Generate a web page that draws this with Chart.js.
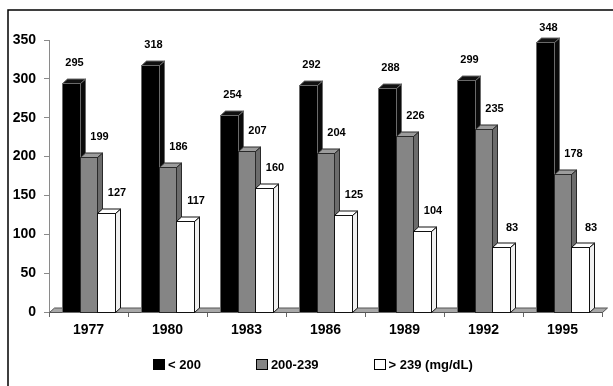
<!DOCTYPE html>
<html>
<head>
<meta charset="utf-8">
<script src="https://cdn.jsdelivr.net/npm/chart.js@4.4.0/dist/chart.umd.min.js"></script>
<style>
  html, body { margin: 0; padding: 0; background: #ffffff; }
  #wrap { width: 613px; height: 386px; position: relative; }
</style>
</head>
<body>
<div id="wrap"><canvas id="c" width="613" height="386"></canvas></div>
<script>
// Cholesterol groups by survey year
const years = ['1977', '1980', '1983', '1986', '1989', '1992', '1995'];
const seriesNames = ['< 200', '200-239', '> 239 (mg/dL)'];
const below200 = [295, 318, 254, 292, 288, 299, 348];
const from200to239 = [199, 186, 207, 204, 226, 235, 178];
const above239 = [127, 117, 160, 125, 104, 83, 83];
const yTicks = [0, 50, 100, 150, 200, 250, 300, 350];

const FONT = '"Liberation Sans", Arial, sans-serif';
const DX = 5, DY = 4.5;          // depth of the extruded boxes
const faces = [
  { front: '#000000', top: '#111111', side: '#0a0a0a', edge: '#6a6a6a' },
  { front: '#858585', top: '#9c9c9c', side: '#6c6c6c', edge: '#2a2a2a' },
  { front: '#ffffff', top: '#ffffff', side: '#f0f0f0', edge: '#111111' }
];
const labelShift = [3.5, 11, 11];

function px(v) { return Math.round(v) + 0.5; }

function drawBox(ctx, left, right, top, base, f) {
  ctx.save();
  ctx.lineWidth = 1;
  ctx.strokeStyle = f.edge;
  ctx.lineJoin = 'miter';
  // right side face
  ctx.beginPath();
  ctx.moveTo(right, top);
  ctx.lineTo(right + DX, top - DY);
  ctx.lineTo(right + DX, base - DY);
  ctx.lineTo(right, base);
  ctx.closePath();
  ctx.fillStyle = f.side; ctx.fill(); ctx.stroke();
  // top face
  ctx.beginPath();
  ctx.moveTo(left, top);
  ctx.lineTo(left + DX, top - DY);
  ctx.lineTo(right + DX, top - DY);
  ctx.lineTo(right, top);
  ctx.closePath();
  ctx.fillStyle = f.top; ctx.fill(); ctx.stroke();
  // front face
  ctx.fillStyle = f.front;
  ctx.fillRect(left, top, right - left, base - top);
  ctx.strokeRect(left, top, right - left, base - top);
  ctx.restore();
}

const boxes3d = {
  id: 'boxes3d',
  beforeDraw(chart) {
    const ctx = chart.ctx;
    ctx.save();
    ctx.fillStyle = '#ffffff';
    ctx.fillRect(0, 0, chart.width, chart.height);
    // frame
    ctx.strokeStyle = '#000000';
    ctx.lineWidth = 1.5;
    ctx.beginPath();
    ctx.moveTo(8, chart.height);
    ctx.lineTo(8, 10);
    ctx.lineTo(chart.width, 10);
    ctx.stroke();
    ctx.restore();
  },
  beforeDatasetDraw() {
    return false;   // flat bars are replaced by the boxes below
  },
  afterDatasetsDraw(chart) {
    const ctx = chart.ctx;
    const area = chart.chartArea;
    const yb = px(area.bottom - 0.5);
    // floor
    ctx.save();
    ctx.beginPath();
    ctx.moveTo(px(area.left), yb);
    ctx.lineTo(px(area.left) + DX, yb - DY);
    ctx.lineTo(px(area.right) + DX, yb - DY);
    ctx.lineTo(px(area.right), yb);
    ctx.closePath();
    ctx.fillStyle = '#a8a8a8';
    ctx.fill();
    ctx.strokeStyle = '#555555';
    ctx.lineWidth = 1;
    ctx.stroke();
    ctx.restore();

    const metas = chart.data.datasets.map((d, i) => chart.getDatasetMeta(i));
    for (let j = 0; j < years.length; j++) {
      metas.forEach((meta, i) => {
        const el = meta.data[j];
        const p = el.getProps(['x', 'y', 'base', 'width'], true);
        const left = px(p.x - p.width / 2);
        const right = px(p.x + p.width / 2);
        drawBox(ctx, left, right, px(p.y), yb, faces[i]);
      });
    }
    // value labels
    ctx.save();
    ctx.font = 'bold 11px ' + FONT;
    ctx.fillStyle = '#000000';
    ctx.textAlign = 'center';
    ctx.textBaseline = 'middle';
    metas.forEach((meta, i) => {
      const values = chart.data.datasets[i].data;
      meta.data.forEach((el, j) => {
        const p = el.getProps(['x', 'y'], true);
        ctx.fillText(String(values[j]), p.x + labelShift[i], Math.max(p.y - 20, 28));
      });
    });
    ctx.restore();
  },
  afterDraw(chart) {
    // legend row
    const ctx = chart.ctx;
    ctx.save();
    ctx.font = 'bold 13px ' + FONT;
    ctx.textBaseline = 'middle';
    ctx.textAlign = 'left';
    const box = 11, gapBox = 4, gap = 55, cy = 365;
    let x = 153;
    chart.data.datasets.forEach((d, i) => {
      const bx = Math.round(x) + 0.5;
      ctx.fillStyle = faces[i].front;
      ctx.fillRect(bx, cy - 5.5, box, 10);
      ctx.strokeStyle = '#000000';
      ctx.lineWidth = 1;
      ctx.strokeRect(bx, cy - 5.5, box, 10);
      ctx.fillStyle = '#000000';
      ctx.fillText(d.label, x + box + gapBox, cy + 0.5);
      x += box + gapBox + ctx.measureText(d.label).width + gap;
    });
    ctx.restore();
  }
};

new Chart(document.getElementById('c'), {
  type: 'bar',
  data: {
    labels: years,
    datasets: [
      { label: seriesNames[0], data: below200, backgroundColor: faces[0].front },
      { label: seriesNames[1], data: from200to239, backgroundColor: faces[1].front },
      { label: seriesNames[2], data: above239, backgroundColor: faces[2].front }
    ]
  },
  options: {
    responsive: false,
    animation: false,
    devicePixelRatio: 1,
    layout: { padding: { left: 0, right: 11, top: 40, bottom: 0 } },
    datasets: { bar: { categoryPercentage: 0.665, barPercentage: 1 } },
    plugins: { legend: { display: false }, tooltip: { enabled: false } },
    scales: {
      x: {
        grid: { offset: true, drawOnChartArea: false, drawTicks: true, tickLength: 5, color: '#666666' },
        border: { color: '#555555', width: 1 },
        ticks: { font: { family: FONT, size: 14, weight: 'bold' }, color: '#000000', padding: 5 },
        afterFit(s) { s.height = 74; }
      },
      y: {
        min: 0, max: 350,
        afterBuildTicks(s) { s.ticks = yTicks.map(v => ({ value: v })); },
        grid: { drawOnChartArea: false, drawTicks: true, tickLength: 5, color: '#8a8a8a' },
        border: { color: '#8a8a8a', width: 1 },
        ticks: { font: { family: FONT, size: 14, weight: 'bold' }, color: '#000000', padding: 8 },
        afterFit(s) { s.width = 49; }
      }
    }
  },
  plugins: [boxes3d]
});
</script>
</body>
</html>
